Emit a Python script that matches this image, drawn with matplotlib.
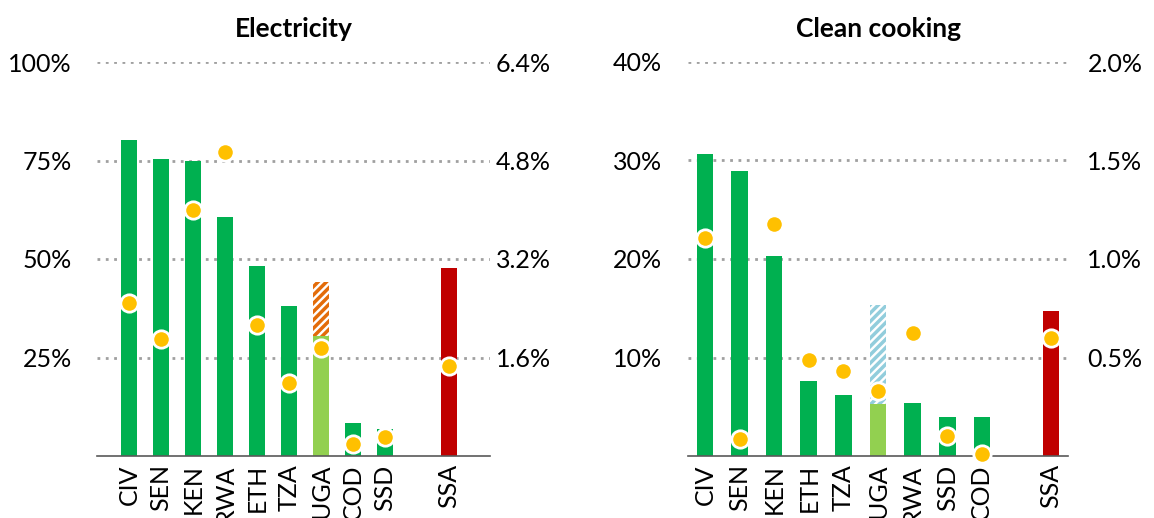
import matplotlib.pyplot as plt
from matplotlib.ticker import FuncFormatter

plt.rcParams['font.family'] = ['Lato', 'DejaVu Sans']
plt.rcParams['hatch.linewidth'] = 2.5

# Electricity panel
elec_countries = ["CIV", "SEN", "KEN", "RWA", "ETH", "TZA", "UGA", "COD", "SSD", "SSA"]
elec_access = [80.2, 75.3, 74.8, 60.7, 48.3, 38.1, 30.5, 8.5, 6.8, 47.7]   # %, left axis
elec_extra = [0, 0, 0, 0, 0, 0, 13.6, 0, 0, 0]                            # hatched top (UGA)
elec_dots = [2.48, 1.90, 3.99, 4.93, 2.12, 1.18, 1.75, 0.19, 0.31, 1.47]   # %, right axis

# Clean cooking panel
cook_countries = ["CIV", "SEN", "KEN", "ETH", "TZA", "UGA", "RWA", "SSD", "COD", "SSA"]
cook_access = [30.7, 28.9, 20.3, 7.6, 6.2, 5.3, 5.35, 4.0, 4.0, 14.7]
cook_extra = [0, 0, 0, 0, 0, 10.0, 0, 0, 0, 0]
cook_dots = [1.105, 0.086, 1.18, 0.487, 0.43, 0.33, 0.626, 0.10, 0.01, 0.60]

GREEN = "#00B050"
LIGHT_GREEN = "#92D050"
RED = "#C00000"
GOLD = "#FFC000"
GRID = "#A0A0A0"

fig = plt.figure(figsize=(11.54, 5.18), dpi=100)
ax1 = fig.add_axes([97 / 1154, 62 / 518, 393 / 1154, 394 / 518])
ax2 = fig.add_axes([688 / 1154, 62 / 518, 380 / 1154, 394 / 518])


def draw(ax, title, countries, access, extra, dots, lmax, rmax, lticks, rticks,
         hatch_col, width, xlim, lpad, rpad):
    pos = list(range(len(countries) - 1)) + [len(countries)]
    colors = []
    for c, e in zip(countries, extra):
        if c == "SSA":
            colors.append(RED)
        elif e > 0:
            colors.append(LIGHT_GREEN)
        else:
            colors.append(GREEN)
    ax.bar(pos, access, width=width, color=colors, zorder=2)
    for p, a, e in zip(pos, access, extra):
        if e > 0:
            ax.bar(p, e, bottom=a, width=width, facecolor="white",
                   edgecolor=hatch_col, hatch="////", linewidth=0, zorder=2)
    ax.set_ylim(0, lmax)
    ax.set_xlim(*xlim)
    ax.set_yticks(lticks)
    ax.yaxis.set_major_formatter(FuncFormatter(lambda v, _: f"{v:.0f}%"))
    for t in lticks:
        ax.axhline(t, color=GRID, lw=2, dashes=(1, 2), zorder=1)
    ax.set_xticks(pos)
    ax.set_xticklabels(countries, rotation=90)
    ax.tick_params(axis="both", length=0, labelsize=18)
    ax.tick_params(axis="y", pad=lpad)
    ax.tick_params(axis="x", pad=6)
    for s in ["top", "left", "right"]:
        ax.spines[s].set_visible(False)
    ax.spines["bottom"].set_color("#595959")
    ax.spines["bottom"].set_linewidth(1.2)
    ax.set_title(title, fontsize=19, fontweight="bold", pad=18)

    tw = ax.twinx()
    tw.set_ylim(0, rmax)
    tw.set_yticks(rticks)
    tw.yaxis.set_major_formatter(FuncFormatter(lambda v, _: f"{v:.1f}%"))
    tw.tick_params(axis="y", length=0, labelsize=18, pad=rpad)
    for s in ["top", "left", "right", "bottom"]:
        tw.spines[s].set_visible(False)
    tw.plot(pos, dots, "o", ms=12.5, mfc=GOLD, mec="white", mew=2,
            zorder=5, clip_on=False)
    ax.set_zorder(tw.get_zorder() - 1)
    ax.patch.set_visible(False)


draw(ax1, "Electricity", elec_countries, elec_access, elec_extra, elec_dots,
     100, 6.4, [25, 50, 75, 100], [1.6, 3.2, 4.8, 6.4],
     "#E36C0A", 0.5, (-1.0, 11.28), 18, 4)
draw(ax2, "Clean cooking", cook_countries, cook_access, cook_extra, cook_dots,
     40, 2.0, [10, 20, 30, 40], [0.5, 1.0, 1.5, 2.0],
     "#92CDDC", 0.48, (-0.49, 10.49), 19, 14)

fig.savefig("out.png", dpi=100)
